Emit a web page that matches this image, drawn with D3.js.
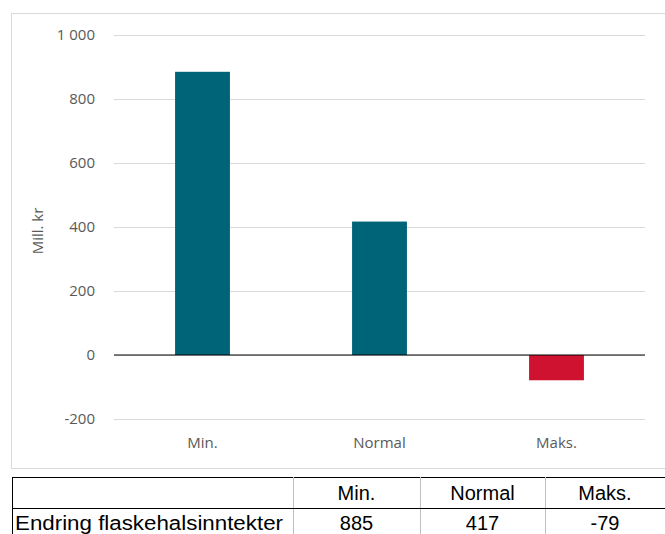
<!DOCTYPE html>
<html>
<head>
<meta charset="utf-8">
<script src="https://cdn.jsdelivr.net/npm/d3@7"></script>
<style>
  html, body { margin: 0; padding: 0; background: #fff; }
  svg { display: block; }
</style>
</head>
<body>
<svg id="chart" width="665" height="534"></svg>
<script>
// Scenario categories and change in bottleneck income (mill. kr)
const categories = ["Min.", "Normal", "Maks."];
const values = [885, 417, -79];
const yTicks = [-200, 0, 200, 400, 600, 800, 1000];
const rowLabel = "Endring flaskehalsinntekter";
const yLabel = "Mill. kr";

const svg = d3.select("#chart");
const font = "'Open Sans', 'Noto Sans', sans-serif";

// Chart frame
svg.append("rect")
  .attr("x", 11.5).attr("y", 13.5)
  .attr("width", 680).attr("height", 455)
  .attr("fill", "none").attr("stroke", "#d9d9d9").attr("stroke-width", 1);

const plot = { left: 114, right: 645, top: 35, bottom: 419 };

const x = d3.scaleBand()
  .domain(categories)
  .range([plot.left, plot.right])
  .paddingInner(0.69).paddingOuter(0.345);

const y = d3.scaleLinear()
  .domain([-200, 1000])
  .range([plot.bottom, plot.top]);

// Grid lines + y labels
const yAxis = d3.axisLeft(y)
  .tickValues(yTicks)
  .tickSize(-(plot.right - plot.left))
  .tickPadding(19)
  .tickFormat(d => d >= 1000 ? "1 000" : String(d));

const gy = svg.append("g")
  .attr("transform", `translate(${plot.left},0)`)
  .call(yAxis);
gy.select(".domain").remove();
gy.selectAll(".tick line").attr("stroke", "#d9d9d9").attr("stroke-width", 1);
gy.selectAll(".tick text")
  .attr("fill", "#595959")
  .style("font-family", font).style("font-size", "15px");

// Bars
svg.append("g").selectAll("rect")
  .data(categories.map((c, i) => ({ c, v: values[i] })))
  .join("rect")
  .attr("x", d => x(d.c))
  .attr("width", x.bandwidth())
  .attr("y", d => y(Math.max(0, d.v)))
  .attr("height", d => Math.abs(y(d.v) - y(0)))
  .attr("fill", d => d.v >= 0 ? "#006479" : "#d01231");

// Zero line
svg.append("line")
  .attr("x1", plot.left).attr("x2", plot.right)
  .attr("y1", y(0)).attr("y2", y(0))
  .attr("stroke", "#000").attr("stroke-width", 1);

// Category labels
const xAxis = d3.axisBottom(x).tickSize(0).tickPadding(0);
const gx = svg.append("g")
  .attr("transform", `translate(0,${plot.bottom + 29})`)
  .call(xAxis);
gx.select(".domain").remove();
gx.selectAll(".tick text")
  .attr("fill", "#595959")
  .attr("dy", "0")
  .style("font-family", font).style("font-size", "15px");

// Y axis title
svg.append("text")
  .attr("transform", `translate(43,${(plot.top + plot.bottom) / 2 + 4}) rotate(-90)`)
  .attr("text-anchor", "middle")
  .attr("fill", "#595959")
  .style("font-family", font).style("font-size", "15px")
  .text(yLabel);

// Data table below the chart
const tTop = 477, tMid = 508, tBottom = 545;
const cols = [12, 293, 420, 545, 690];
const table = svg.append("g");

table.append("rect")
  .attr("x", cols[0] + 0.5).attr("y", tTop + 0.5)
  .attr("width", cols[4] - cols[0]).attr("height", tBottom - tTop)
  .attr("fill", "none").attr("stroke", "#000").attr("stroke-width", 1);

table.selectAll("line.col")
  .data(cols.slice(1, 4))
  .join("line")
  .attr("class", "col")
  .attr("x1", d => d + 0.5).attr("x2", d => d + 0.5)
  .attr("y1", tTop).attr("y2", tBottom)
  .attr("stroke", "#bfbfbf");

table.append("line")
  .attr("x1", cols[0]).attr("x2", cols[4])
  .attr("y1", tMid + 0.5).attr("y2", tMid + 0.5)
  .attr("stroke", "#000");

const cellFont = "'Liberation Sans', 'Open Sans', sans-serif";
const cellX = i => (cols[i + 1] + Math.min(cols[i + 2], 665)) / 2;

table.selectAll("text.head")
  .data(categories)
  .join("text")
  .attr("class", "head")
  .attr("x", (d, i) => cellX(i))
  .attr("y", 500)
  .attr("text-anchor", "middle")
  .style("font-family", cellFont).style("font-size", "20px")
  .attr("fill", "#000")
  .text(d => d);

table.append("text")
  .attr("x", 15).attr("y", 530)
  .attr("textLength", 268).attr("lengthAdjust", "spacingAndGlyphs")
  .style("font-family", cellFont).style("font-size", "20px")
  .attr("fill", "#000")
  .text(rowLabel);

table.selectAll("text.val")
  .data(values)
  .join("text")
  .attr("class", "val")
  .attr("x", (d, i) => cellX(i))
  .attr("y", 530)
  .attr("text-anchor", "middle")
  .style("font-family", cellFont).style("font-size", "20px")
  .attr("fill", "#000")
  .text(d => d);
</script>
</body>
</html>
